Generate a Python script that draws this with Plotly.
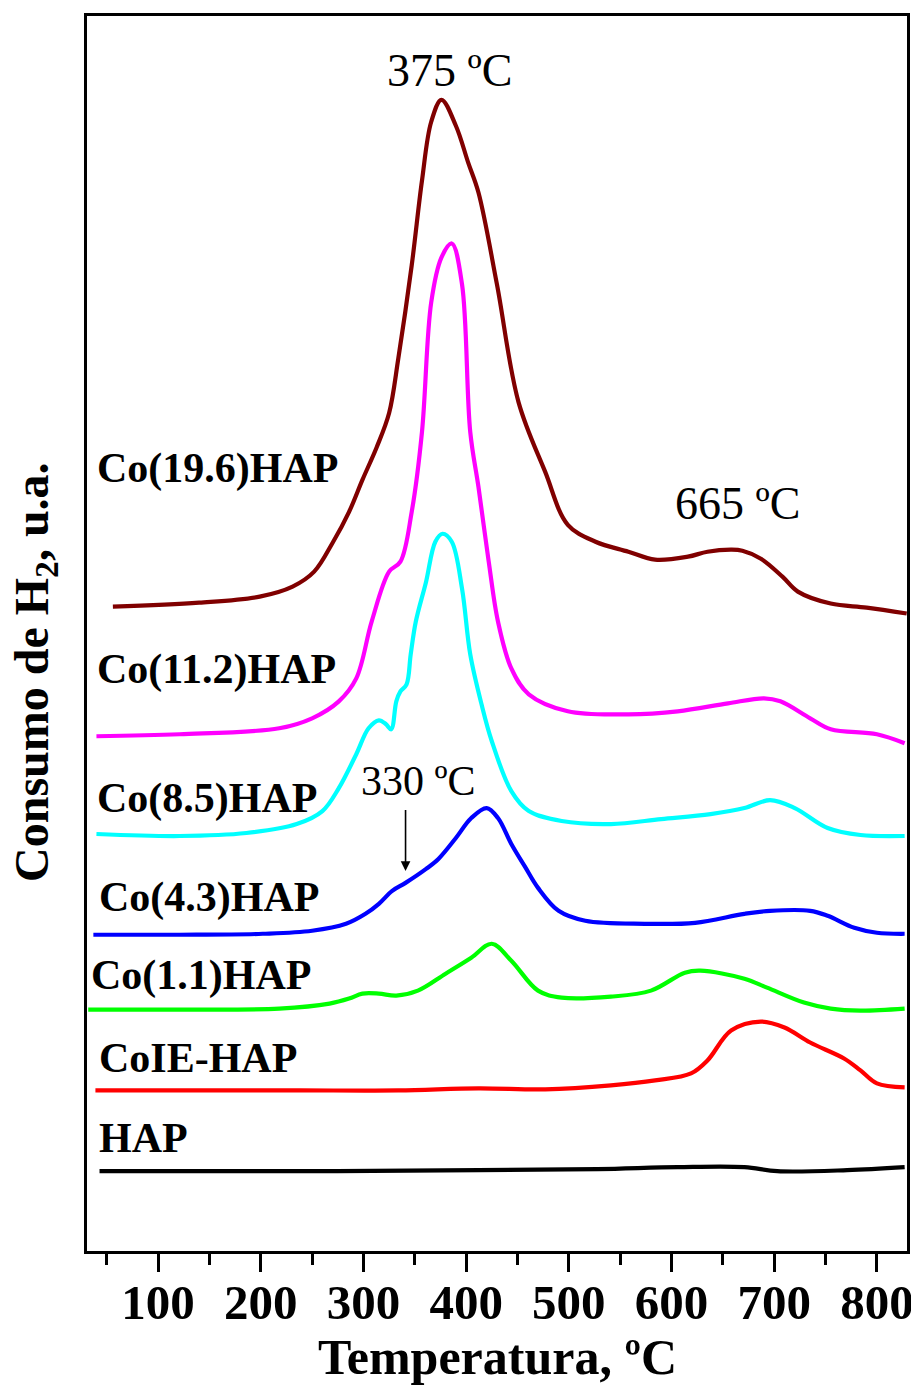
import plotly.graph_objects as go

# Temperatures (ºC) and H2 consumption (a.u.)
t_196 = [56, 140, 199, 231, 252, 270, 286, 299, 313, 325, 334, 347, 357, 366, 376, 390, 402, 412, 430, 451, 477, 499, 526, 558, 584, 616, 635, 658, 669, 687, 708, 723, 755, 790, 829]
i_196 = [646, 650, 656, 666, 681, 710, 741, 773, 806, 840, 895, 988, 1073, 1132, 1154, 1128, 1091, 1061, 969, 851, 781, 728, 711, 701, 693, 696, 701, 703, 702, 694, 676, 661, 649, 645, 639]

t_112 = [40, 121, 218, 250, 276, 293, 308, 325, 336, 347, 357, 366, 376, 386, 396, 404, 412, 422, 431, 444, 461, 499, 558, 606, 655, 690, 706, 735, 755, 800, 827]
i_112 = [516, 518, 524, 534, 551, 574, 631, 681, 691, 741, 821, 951, 996, 1010, 969, 821, 766, 691, 631, 584, 558, 541, 538, 541, 549, 554, 551, 534, 523, 518, 509]

t_85 = [40, 121, 186, 235, 260, 276, 293, 305, 315, 322, 327, 332, 336, 342, 346, 351, 361, 370, 377, 386, 396, 404, 415, 425, 444, 461, 493, 541, 590, 638, 671, 696, 720, 752, 784, 827]
i_85 = [418, 416, 419, 428, 441, 464, 498, 524, 532, 528, 523, 551, 561, 568, 598, 631, 671, 711, 719, 711, 664, 598, 548, 511, 461, 441, 431, 428, 433, 438, 444, 452, 444, 424, 417, 416]

t_43 = [37, 121, 202, 250, 283, 302, 315, 328, 341, 361, 373, 390, 405, 420, 431, 444, 458, 470, 490, 516, 574, 623, 671, 696, 735, 752, 778, 800, 827]
i_43 = [317, 317, 318, 321, 328, 338, 348, 361, 369, 383, 393, 414, 434, 444, 434, 408, 384, 364, 341, 331, 328, 329, 338, 341, 341, 336, 324, 319, 318]

t_11 = [32, 121, 218, 267, 286, 299, 315, 332, 353, 380, 405, 425, 444, 470, 493, 541, 580, 613, 628, 671, 693, 729, 755, 784, 827]
i_11 = [242, 242, 243, 248, 253, 258, 258, 256, 261, 278, 294, 308, 291, 261, 254, 255, 261, 279, 281, 273, 264, 249, 243, 241, 243]

t_ie = [39, 140, 238, 334, 412, 477, 541, 584, 619, 635, 658, 687, 710, 735, 768, 784, 800, 827]
i_ie = [161, 161, 161, 161, 163, 162, 166, 171, 178, 191, 221, 230, 224, 209, 193, 181, 168, 164]

t_hap = [43, 238, 412, 528, 606, 671, 703, 771, 827]
i_hap = [80, 80, 81, 82, 84, 84, 80, 81, 84]

series = [
    ("Co(19.6)HAP", t_196, i_196, "#800000"),
    ("Co(11.2)HAP", t_112, i_112, "#FF00FF"),
    ("Co(8.5)HAP", t_85, i_85, "#00FFFF"),
    ("Co(4.3)HAP", t_43, i_43, "#0000FF"),
    ("Co(1.1)HAP", t_11, i_11, "#00FF00"),
    ("CoIE-HAP", t_ie, i_ie, "#FF0000"),
    ("HAP", t_hap, i_hap, "#000000"),
]

# label positions (T, intensity)
label_pos = {
    "Co(19.6)HAP": (38.5, 784),
    "Co(11.2)HAP": (38.5, 583),
    "Co(8.5)HAP": (38.5, 454),
    "Co(4.3)HAP": (40.5, 354),
    "Co(1.1)HAP": (33, 276),
    "CoIE-HAP": (40.5, 193),
    "HAP": (40.5, 113),
}

tick_vals = [100, 200, 300, 400, 500, 600, 700, 800]
tick_text = [str(v) for v in tick_vals]

SERIF = "Liberation Serif, Times New Roman, serif"

fig = go.Figure()
for name, t, i, c in series:
    fig.add_trace(go.Scatter(x=t, y=i, mode="lines", name=name,
                             line=dict(color=c, width=4.2, shape="spline", smoothing=1.0),
                             showlegend=False))

ann = []
for name, (tx, iy) in label_pos.items():
    ann.append(dict(x=tx, y=iy, xref="x", yref="y", text=name, showarrow=False,
                    xanchor="left", yanchor="middle",
                    font=dict(family=SERIF, size=42, color="black", weight="bold")))

ann.append(dict(x=384, y=1183, xref="x", yref="y", text="375 ºC", showarrow=False,
                xanchor="center", yanchor="middle", font=dict(family=SERIF, size=46, color="black")))
ann.append(dict(x=664, y=749, xref="x", yref="y", text="665 ºC", showarrow=False,
                xanchor="center", yanchor="middle", font=dict(family=SERIF, size=46, color="black")))
ann.append(dict(x=354, y=471, xref="x", yref="y", text="330 ºC", showarrow=False,
                xanchor="center", yanchor="middle", font=dict(family=SERIF, size=42, color="black")))
ann.append(dict(x=341, y=381, xref="x", yref="y", ax=341, ay=445, axref="x", ayref="y",
                text=" ", showarrow=True, arrowhead=2, arrowsize=1.2, arrowwidth=1.6,
                arrowcolor="black", font=dict(size=2)))

# axis titles
ann.append(dict(x=0.5006, y=-0.0856, xref="paper", yref="paper", text="Temperatura, ºC",
                showarrow=False, xanchor="center", yanchor="middle",
                font=dict(family=SERIF, size=50, color="black", weight="bold")))
ann.append(dict(x=-0.0632, y=0.469, xref="paper", yref="paper", text="Consumo de H<sub>2</sub>, u.a.",
                showarrow=False, xanchor="center", yanchor="middle", textangle=-90,
                font=dict(family=SERIF, size=48, color="black", weight="bold")))

# page body has an 8 px default margin, so the figure is 8 px smaller
fig.update_layout(
    width=911, height=1380,
    margin=dict(l=79, r=9, t=5, b=137),
    paper_bgcolor="white", plot_bgcolor="white",
    annotations=ann,
)
fig.update_xaxes(range=[30.8, 829.3], tickvals=tick_vals, ticktext=tick_text,
                 ticks="outside", ticklen=18, tickwidth=3, tickcolor="black",
                 ticklabelstandoff=-12,
                 minor=dict(ticks="outside", ticklen=11, tickwidth=3, tickcolor="black", dtick=50, tick0=50),
                 showline=True, linewidth=3, linecolor="black", mirror=True,
                 showgrid=False, zeroline=False,
                 tickfont=dict(family=SERIF, size=49, color="black", weight="bold"))
fig.update_yaxes(range=[0, 1238], showticklabels=False, ticks="",
                 showline=True, linewidth=3, linecolor="black", mirror=True,
                 showgrid=False, zeroline=False)

fig.write_html("out.html")
